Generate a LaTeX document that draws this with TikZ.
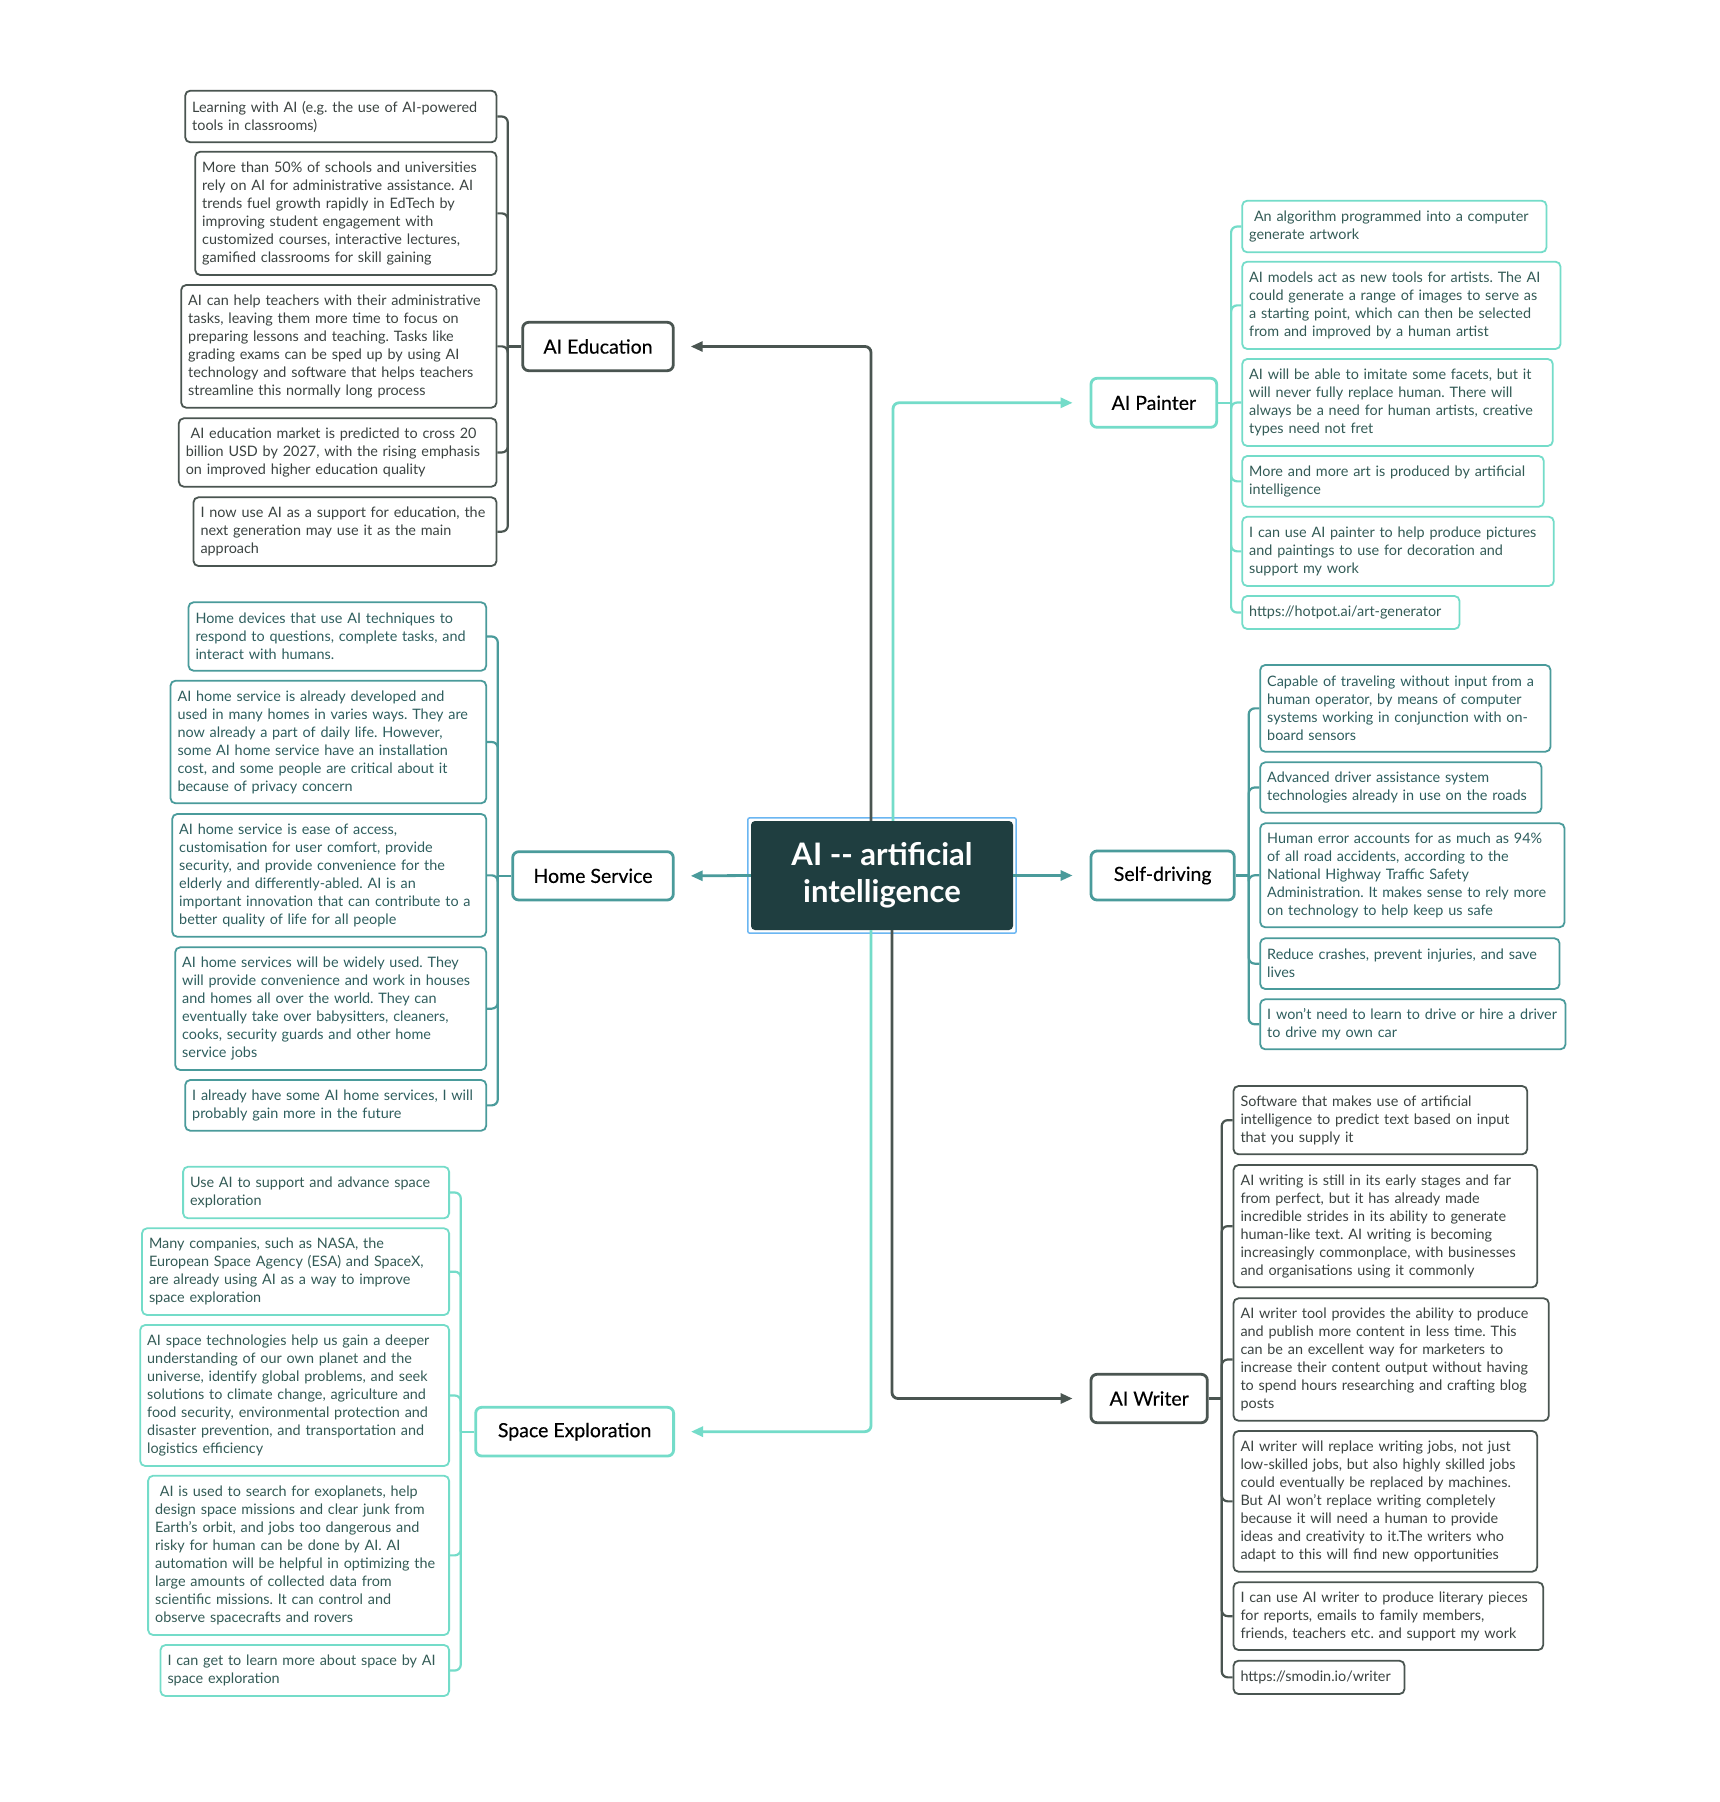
\documentclass[tikz,border=0pt]{standalone}
\usepackage{fontspec}
\setmainfont{Lato}
\newfontfamily\topfont[FakeBold=0.35]{Lato}
\usetikzlibrary{arrows.meta,calc}
\frenchspacing
\definecolor{dk}{HTML}{4A5551}
\definecolor{md}{HTML}{4A9B9B}
\definecolor{lt}{HTML}{74DCC9}
\definecolor{ctrfill}{HTML}{1F3E40}
\definecolor{selc}{HTML}{6BB6F2}
\definecolor{dktext}{HTML}{3B4341}
\definecolor{mdtext}{HTML}{2E5E5E}
\definecolor{lttext}{HTML}{335B56}
\tikzset{
  leaf/.style={draw, rounded corners=5pt, line width=1.8pt, inner xsep=7pt, inner ysep=0pt, align=left, font=\fontsize{14.4}{18}\selectfont, fill=white},
  dkleaf/.style={leaf, draw=dk, text=dktext},
  mdleaf/.style={leaf, draw=md, text=mdtext},
  ltleaf/.style={leaf, draw=lt, text=lttext},
  topic/.style={draw, rounded corners=6pt, line width=2.8pt, inner sep=0pt, font=\topfont\fontsize{19.5}{23}\selectfont, text=black, fill=white},
  conn/.style={line width=2.8pt, rounded corners=6pt, -{Triangle[length=12pt,width=10pt]}},
  brk/.style={line width=2.2pt, rounded corners=6pt},
}
\newcommand\mkbox[7]{%
  \pgfmathsetmacro\Bw{#5-#3}\pgfmathsetmacro\Bh{#6-#4}%
  \pgfmathsetmacro\Bx{(#3+#5)/2}\pgfmathsetmacro\By{(#4+#6)/2}%
  \pgfmathsetmacro\Btw{#5-#3-13}%
  \node[#2,minimum width=\Bw pt,minimum height=\Bh pt,text width=\Btw pt] (#1) at (\Bx,\By) {#7};}
\newcommand\mktopic[7]{%
  \pgfmathsetmacro\Bw{#5-#3}\pgfmathsetmacro\Bh{#6-#4}%
  \pgfmathsetmacro\Bx{(#3+#5)/2}\pgfmathsetmacro\By{(#4+#6)/2}%
  \node[topic,#2,minimum width=\Bw pt,minimum height=\Bh pt] (#1) at (\Bx,\By) {#7};}
\begin{document}
\begin{tikzpicture}[x=1pt,y=-1pt]
\useasboundingbox[fill=white] (0,0) rectangle (1720,1802);

% central node
\node[fill=ctrfill, rounded corners=4pt, minimum width=262pt, minimum height=109pt, inner sep=0pt, align=center, text=white, font=\bfseries\fontsize{31}{37}\selectfont] (ctr) at (882,875.5) {AI -{}- artificial\\intelligence};
\draw[selc, line width=1.5pt, rounded corners=2pt] ([shift={(-3,-3)}]ctr.north west) rectangle ([shift={(3,3)}]ctr.south east);

% topics
\mktopic{ed}{draw=dk}{522.7}{322.3}{673.3}{370.7}{AI Education}
\mktopic{hs}{draw=md}{512.7}{851.7}{673.3}{900}{Home Service}
\mktopic{sp}{draw=lt}{475.7}{1407.3}{673.6}{1456}{Space Exploration}
\mktopic{pa}{draw=lt}{1091}{378.3}{1216.7}{427.3}{AI Painter}
\mktopic{sd}{draw=md}{1091}{851}{1234.3}{900}{Self-driving}
\mktopic{wr}{draw=dk}{1091}{1374.3}{1207.3}{1422.7}{AI Writer}

% AI Education leaves
\mkbox{e1}{dkleaf}{185.7}{90.7}{496}{142.3}{Learning with AI (e.g. the use of AI-powered\\tools in classrooms)}
\mkbox{e2}{dkleaf}{195.7}{151.7}{496}{275}{More than 50\% of schools and universities\\rely on AI for administrative assistance. AI\\trends fuel growth rapidly in EdTech by\\improving student engagement with\\customized courses, interactive lectures,\\gamified classrooms for skill gaining}
\mkbox{e3}{dkleaf}{181.7}{285}{496}{407.7}{AI can help teachers with their administrative\\tasks, leaving them more time to focus on\\preparing lessons and teaching. Tasks like\\grading exams can be sped up by using AI\\technology and software that helps teachers\\streamline this normally long process}
\mkbox{e4}{dkleaf}{179.3}{418.3}{496}{486.7}{\ AI education market is predicted to cross 20\\billion USD by 2027, with the rising emphasis\\on improved higher education quality}
\mkbox{e5}{dkleaf}{194}{497.3}{496}{566}{I now use AI as a support for education, the\\next generation may use it as the main\\approach}

% Home Service leaves
\mkbox{h1}{mdleaf}{189}{602.3}{485.7}{670.7}{Home devices that use AI techniques to\\respond to questions, complete tasks, and\\interact with humans.}
\mkbox{h2}{mdleaf}{171}{680.7}{485.7}{803.3}{AI home service is already developed and\\used in many homes in varies ways. They are\\now already a part of daily life. However,\\some AI home service have an installation\\cost, and some people are critical about it\\because of privacy concern}
\mkbox{h3}{mdleaf}{172.7}{814}{485.7}{936.7}{AI home service is ease of access,\\customisation for user comfort, provide\\security, and provide convenience for the\\elderly and differently-abled. AI is an\\important innovation that can contribute to a\\better quality of life for all people}
\mkbox{h4}{mdleaf}{175.7}{947.3}{485.7}{1070}{AI home services will be widely used. They\\will provide convenience and work in houses\\and homes all over the world. They can\\eventually take over babysitters, cleaners,\\cooks, security guards and other home\\service jobs}
\mkbox{h5}{mdleaf}{185.7}{1080}{485.7}{1130.7}{I already have some AI home services, I will\\probably gain more in the future}

% Space Exploration leaves
\mkbox{x1}{ltleaf}{183.6}{1166.7}{448.6}{1218.3}{Use AI to support and advance space\\exploration}
\mkbox{x2}{ltleaf}{142.5}{1228.3}{448.6}{1315}{Many companies, such as NASA, the\\European Space Agency (ESA) and SpaceX,\\are already using AI as a way to improve\\space exploration}
\mkbox{x3}{ltleaf}{140.7}{1325}{448.6}{1466}{AI space technologies help us gain a deeper\\understanding of our own planet and the\\universe, identify global problems, and seek\\solutions to climate change, agriculture and\\food security, environmental protection and\\disaster prevention, and transportation and\\logistics efficiency}
\mkbox{x4}{ltleaf}{148.6}{1475.7}{448.6}{1635}{\ AI is used to search for exoplanets, help\\design space missions and clear junk from\\Earth's orbit, and jobs too dangerous and\\risky for human can be done by AI. AI\\automation will be helpful in optimizing the\\large amounts of collected data from\\scientific missions. It can control and\\observe spacecrafts and rovers}
\mkbox{x5}{ltleaf}{161}{1645}{448.6}{1696}{I can get to learn more about space by AI\\space exploration}

% AI Painter leaves
\mkbox{p1}{ltleaf}{1242.7}{200.7}{1546}{252.3}{\ An algorithm programmed into a computer\\generate artwork}
\mkbox{p2}{ltleaf}{1242.7}{261.7}{1560}{349}{AI models act as new tools for artists. The AI\\could generate a range of images to serve as\\a starting point, which can then be selected\\from and improved by a human artist}
\mkbox{p3}{ltleaf}{1242.7}{359}{1552.3}{446}{AI will be able to imitate some facets, but it\\will never fully replace human. There will\\always be a need for human artists, creative\\types need not fret}
\mkbox{p4}{ltleaf}{1242.7}{456}{1543.3}{506.7}{More and more art is produced by artificial\\intelligence}
\mkbox{p5}{ltleaf}{1242.7}{516.7}{1553.3}{586}{I can use AI painter to help produce pictures\\and paintings to use for decoration and\\support my work}
\mkbox{p6}{ltleaf}{1242.7}{596}{1459}{629}{https://hotpot.ai/art-generator}

% Self-driving leaves
\mkbox{s1}{mdleaf}{1260.7}{665}{1550}{751.7}{Capable of traveling without input from a\\human operator, by means of computer\\systems working in conjunction with on-\\board sensors}
\mkbox{s2}{mdleaf}{1260.7}{762.3}{1541}{812.7}{Advanced driver assistance system\\technologies already in use on the roads}
\mkbox{s3}{mdleaf}{1260.7}{823.3}{1564}{927.3}{Human error accounts for as much as 94\%\\of all road accidents, according to the\\National Highway Traffic Safety\\Administration. It makes sense to rely more\\on technology to help keep us safe}
\mkbox{s4}{mdleaf}{1260.7}{938.3}{1559}{989}{Reduce crashes, prevent injuries, and save\\lives}
\mkbox{s5}{mdleaf}{1260.7}{999.3}{1565}{1049.3}{I won't need to learn to drive or hire a driver\\to drive my own car}

% AI Writer leaves
\mkbox{w1}{dkleaf}{1234}{1086}{1526.7}{1154.3}{Software that makes use of artificial\\intelligence to predict text based on input\\that you supply it}
\mkbox{w2}{dkleaf}{1234}{1165}{1536.7}{1287.3}{AI writing is still in its early stages and far\\from perfect, but it has already made\\incredible strides in its ability to generate\\human-like text. AI writing is becoming\\increasingly commonplace, with businesses\\and organisations using it commonly}
\mkbox{w3}{dkleaf}{1234}{1298.3}{1548.3}{1420.7}{AI writer tool provides the ability to produce\\and publish more content in less time. This\\can be an excellent way for marketers to\\increase their content output without having\\to spend hours researching and crafting blog\\posts}
\mkbox{w4}{dkleaf}{1234}{1431}{1536.7}{1571.7}{AI writer will replace writing jobs, not just\\low-skilled jobs, but also highly skilled jobs\\could eventually be replaced by machines.\\But AI won't replace writing completely\\because it will need a human to provide\\ideas and creativity to it.The writers who\\adapt to this will find new opportunities}
\mkbox{w5}{dkleaf}{1234}{1582.3}{1542.7}{1650}{I can use AI writer to produce literary pieces\\for reports, emails to family members,\\friends, teachers etc. and support my work}
\mkbox{w6}{dkleaf}{1234}{1660.7}{1404}{1694}{https://smodin.io/writer}

% brackets
\coordinate (edb) at ($(ed.west)+(-13.5,0)$);
\draw[brk,dk] (ed.west) -- (edb);
\foreach \n in {e1,e2,e3,e4,e5} \draw[brk,dk] (edb) |- (\n.east);
\coordinate (hsb) at ($(hs.west)+(-13.5,0)$);
\draw[brk,md] (hs.west) -- (hsb);
\foreach \n in {h1,h2,h3,h4,h5} \draw[brk,md] (hsb) |- (\n.east);
\coordinate (spb) at ($(sp.west)+(-13.5,0)$);
\draw[brk,lt] (sp.west) -- (spb);
\foreach \n in {x1,x2,x3,x4,x5} \draw[brk,lt] (spb) |- (\n.east);
\coordinate (pab) at ($(pa.east)+(13,0)$);
\draw[brk,lt] (pa.east) -- (pab);
\foreach \n in {p1,p2,p3,p4,p5,p6} \draw[brk,lt] (pab) |- (\n.west);
\coordinate (sdb) at ($(sd.east)+(13,0)$);
\draw[brk,md] (sd.east) -- (sdb);
\foreach \n in {s1,s2,s3,s4,s5} \draw[brk,md] (sdb) |- (\n.west);
\coordinate (wrb) at ($(wr.east)+(13,0)$);
\draw[brk,dk] (wr.east) -- (wrb);
\foreach \n in {w1,w2,w3,w4,w5,w6} \draw[brk,dk] (wrb) |- (\n.west);

% main connectors
\draw[conn,dk] ([xshift=-11pt]ctr.north) |- ([xshift=16pt]ed.east);
\draw[conn,lt] ([xshift=11pt]ctr.north) |- ([xshift=-17pt]pa.west);
\draw[conn,md] (ctr.west) -- ([xshift=16pt]hs.east);
\draw[conn,md] (ctr.east) -- ([xshift=-17pt]sd.west);
\draw[conn,dk] ([xshift=10pt]ctr.south) |- ([xshift=-17pt]wr.west);
\draw[conn,lt] ([xshift=-11pt]ctr.south) |- ([xshift=16pt]sp.east);
\end{tikzpicture}
\end{document}
